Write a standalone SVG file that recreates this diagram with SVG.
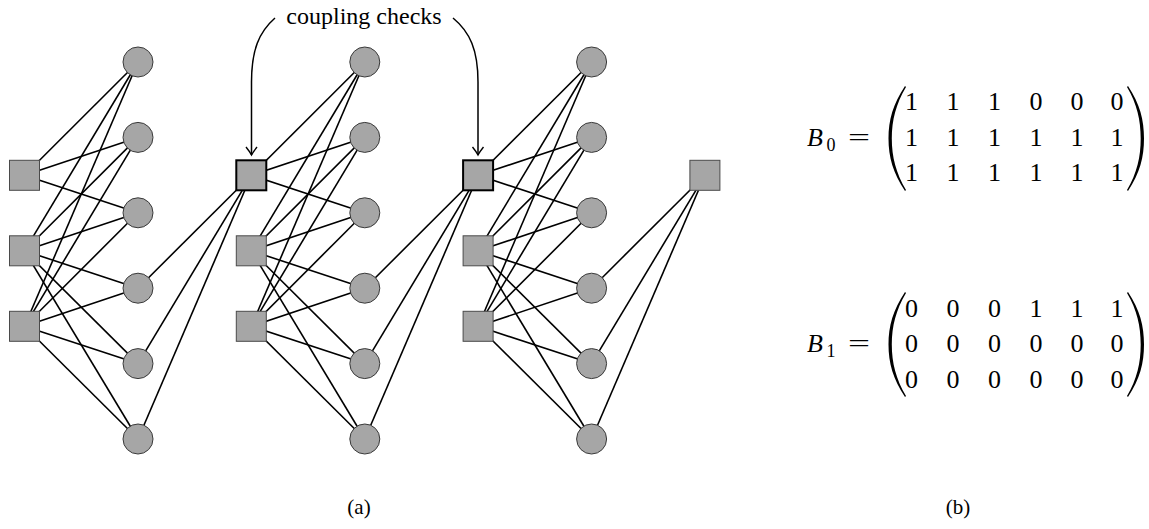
<svg xmlns="http://www.w3.org/2000/svg" xmlns:xlink="http://www.w3.org/1999/xlink" width="1149" height="529" viewBox="0 0 1149 529">
<style>
.e{stroke:#000;stroke-width:1.6;fill:none}
.v{fill:#a6a6a6;stroke:#3a3a3a;stroke-width:1}
.c{fill:#a6a6a6;stroke:#4a4a4a;stroke-width:1}
.cc{fill:#a6a6a6;stroke:#000;stroke-width:2}
.t{font-family:"Liberation Serif","Times New Roman",serif;fill:#000}
.m{font-family:"Liberation Serif","Times New Roman",serif;font-size:26px;fill:#000;text-anchor:middle}
.arr{stroke:#000;stroke-width:1.5;fill:none}
</style>
<defs>
<marker id="ah" markerUnits="userSpaceOnUse" markerWidth="16" markerHeight="16" refX="0" refY="0" viewBox="-8 -8 16 16" orient="auto" overflow="visible">
<path d="M-8,-5.5 Q-3,-1.5 0,0 Q-3,1.5 -8,5.5" fill="none" stroke="#000" stroke-width="1.4"/>
</marker>
<path id="lp" d="M905,86 C893,104 888.5,120 888.5,138.5 C888.5,157 893,173 905,191 L906,190 C896,173 891.8,157 891.8,138.5 C891.8,120 896,104 906,87 Z" fill="#000"/>
<path id="rp" d="M1128,86 C1140,104 1144,120 1144,138.5 C1144,157 1140,173 1128,191 L1127,190 C1137,173 1140.7,157 1140.7,138.5 C1140.7,120 1137,104 1127,87 Z" fill="#000"/>
</defs>
<rect width="1149" height="529" fill="#fff"/>

<g id="connectors">
<!-- column 0 -->
<line class="e" x1="24.5" y1="175.3" x2="138" y2="62"/>
<line class="e" x1="24.5" y1="175.3" x2="138" y2="137.4"/>
<line class="e" x1="24.5" y1="175.3" x2="138" y2="212.8"/>
<line class="e" x1="24.5" y1="250.8" x2="138" y2="62"/>
<line class="e" x1="24.5" y1="250.8" x2="138" y2="137.4"/>
<line class="e" x1="24.5" y1="250.8" x2="138" y2="212.8"/>
<line class="e" x1="24.5" y1="250.8" x2="138" y2="288.2"/>
<line class="e" x1="24.5" y1="250.8" x2="138" y2="363.6"/>
<line class="e" x1="24.5" y1="250.8" x2="138" y2="439"/>
<line class="e" x1="24.5" y1="326.3" x2="138" y2="62"/>
<line class="e" x1="24.5" y1="326.3" x2="138" y2="137.4"/>
<line class="e" x1="24.5" y1="326.3" x2="138" y2="212.8"/>
<line class="e" x1="24.5" y1="326.3" x2="138" y2="288.2"/>
<line class="e" x1="24.5" y1="326.3" x2="138" y2="363.6"/>
<line class="e" x1="24.5" y1="326.3" x2="138" y2="439"/>
<line class="e" x1="251.3" y1="175.3" x2="138" y2="288.2"/>
<line class="e" x1="251.3" y1="175.3" x2="138" y2="363.6"/>
<line class="e" x1="251.3" y1="175.3" x2="138" y2="439"/>
<!-- column 1 -->
<line class="e" x1="251.3" y1="175.3" x2="364.8" y2="62"/>
<line class="e" x1="251.3" y1="175.3" x2="364.8" y2="137.4"/>
<line class="e" x1="251.3" y1="175.3" x2="364.8" y2="212.8"/>
<line class="e" x1="251.3" y1="250.8" x2="364.8" y2="62"/>
<line class="e" x1="251.3" y1="250.8" x2="364.8" y2="137.4"/>
<line class="e" x1="251.3" y1="250.8" x2="364.8" y2="212.8"/>
<line class="e" x1="251.3" y1="250.8" x2="364.8" y2="288.2"/>
<line class="e" x1="251.3" y1="250.8" x2="364.8" y2="363.6"/>
<line class="e" x1="251.3" y1="250.8" x2="364.8" y2="439"/>
<line class="e" x1="251.3" y1="326.3" x2="364.8" y2="62"/>
<line class="e" x1="251.3" y1="326.3" x2="364.8" y2="137.4"/>
<line class="e" x1="251.3" y1="326.3" x2="364.8" y2="212.8"/>
<line class="e" x1="251.3" y1="326.3" x2="364.8" y2="288.2"/>
<line class="e" x1="251.3" y1="326.3" x2="364.8" y2="363.6"/>
<line class="e" x1="251.3" y1="326.3" x2="364.8" y2="439"/>
<line class="e" x1="478.1" y1="175.3" x2="364.8" y2="288.2"/>
<line class="e" x1="478.1" y1="175.3" x2="364.8" y2="363.6"/>
<line class="e" x1="478.1" y1="175.3" x2="364.8" y2="439"/>
<!-- column 2 -->
<line class="e" x1="478.1" y1="175.3" x2="591.6" y2="62"/>
<line class="e" x1="478.1" y1="175.3" x2="591.6" y2="137.4"/>
<line class="e" x1="478.1" y1="175.3" x2="591.6" y2="212.8"/>
<line class="e" x1="478.1" y1="250.8" x2="591.6" y2="62"/>
<line class="e" x1="478.1" y1="250.8" x2="591.6" y2="137.4"/>
<line class="e" x1="478.1" y1="250.8" x2="591.6" y2="212.8"/>
<line class="e" x1="478.1" y1="250.8" x2="591.6" y2="288.2"/>
<line class="e" x1="478.1" y1="250.8" x2="591.6" y2="363.6"/>
<line class="e" x1="478.1" y1="250.8" x2="591.6" y2="439"/>
<line class="e" x1="478.1" y1="326.3" x2="591.6" y2="62"/>
<line class="e" x1="478.1" y1="326.3" x2="591.6" y2="137.4"/>
<line class="e" x1="478.1" y1="326.3" x2="591.6" y2="212.8"/>
<line class="e" x1="478.1" y1="326.3" x2="591.6" y2="288.2"/>
<line class="e" x1="478.1" y1="326.3" x2="591.6" y2="363.6"/>
<line class="e" x1="478.1" y1="326.3" x2="591.6" y2="439"/>
<line class="e" x1="704.9" y1="175.3" x2="591.6" y2="288.2"/>
<line class="e" x1="704.9" y1="175.3" x2="591.6" y2="363.6"/>
<line class="e" x1="704.9" y1="175.3" x2="591.6" y2="439"/>
<!-- coupling arrows -->
<path class="arr" d="M275,18 C259,32 251.5,50 251.5,82 L251.5,155" marker-end="url(#ah)"/>
<path class="arr" d="M453,18 C470,32 478,50 478,82 L478,155" marker-end="url(#ah)"/>
</g>

<g id="var-nodes">
<circle id="v0-0" class="v" cx="138" cy="62" r="15"/>
<circle id="v0-1" class="v" cx="138" cy="137.4" r="15"/>
<circle id="v0-2" class="v" cx="138" cy="212.8" r="15"/>
<circle id="v0-3" class="v" cx="138" cy="288.2" r="15"/>
<circle id="v0-4" class="v" cx="138" cy="363.6" r="15"/>
<circle id="v0-5" class="v" cx="138" cy="439" r="15"/>
<circle id="v1-0" class="v" cx="364.8" cy="62" r="15"/>
<circle id="v1-1" class="v" cx="364.8" cy="137.4" r="15"/>
<circle id="v1-2" class="v" cx="364.8" cy="212.8" r="15"/>
<circle id="v1-3" class="v" cx="364.8" cy="288.2" r="15"/>
<circle id="v1-4" class="v" cx="364.8" cy="363.6" r="15"/>
<circle id="v1-5" class="v" cx="364.8" cy="439" r="15"/>
<circle id="v2-0" class="v" cx="591.6" cy="62" r="15"/>
<circle id="v2-1" class="v" cx="591.6" cy="137.4" r="15"/>
<circle id="v2-2" class="v" cx="591.6" cy="212.8" r="15"/>
<circle id="v2-3" class="v" cx="591.6" cy="288.2" r="15"/>
<circle id="v2-4" class="v" cx="591.6" cy="363.6" r="15"/>
<circle id="v2-5" class="v" cx="591.6" cy="439" r="15"/>
</g>

<g id="check-nodes">
<rect id="c0-0" class="c" x="9.5" y="160.3" width="30" height="30"/>
<rect id="c0-1" class="c" x="9.5" y="235.8" width="30" height="30"/>
<rect id="c0-2" class="c" x="9.5" y="311.3" width="30" height="30"/>
<rect id="c1-0" class="cc" x="236.3" y="160.3" width="30" height="30"/>
<rect id="c1-1" class="c" x="236.3" y="235.8" width="30" height="30"/>
<rect id="c1-2" class="c" x="236.3" y="311.3" width="30" height="30"/>
<rect id="c2-0" class="cc" x="463.1" y="160.3" width="30" height="30"/>
<rect id="c2-1" class="c" x="463.1" y="235.8" width="30" height="30"/>
<rect id="c2-2" class="c" x="463.1" y="311.3" width="30" height="30"/>
<rect id="c3-0" class="c" x="689.9" y="160.3" width="30" height="30"/>
</g>

<g id="label-coupling">
<text class="t" x="364" y="24" font-size="24" text-anchor="middle">coupling checks</text>
</g>

<g id="matrix-B0">
<text class="t" x="807" y="145.5" font-size="26" font-style="italic">B</text>
<text class="t" x="826.5" y="150.5" font-size="18">0</text>
<text class="t" font-size="26" text-anchor="middle" transform="translate(859,145.5) scale(1.5,1)">=</text>
<use xlink:href="#lp"/>
<use xlink:href="#rp"/>
<text class="m" y="110"><tspan x="911.5">1</tspan><tspan x="953">1</tspan><tspan x="994.5">1</tspan><tspan x="1036">0</tspan><tspan x="1077">0</tspan><tspan x="1117">0</tspan></text>
<text class="m" y="145.5"><tspan x="911.5">1</tspan><tspan x="953">1</tspan><tspan x="994.5">1</tspan><tspan x="1036">1</tspan><tspan x="1077">1</tspan><tspan x="1117">1</tspan></text>
<text class="m" y="181"><tspan x="911.5">1</tspan><tspan x="953">1</tspan><tspan x="994.5">1</tspan><tspan x="1036">1</tspan><tspan x="1077">1</tspan><tspan x="1117">1</tspan></text>
</g>

<g id="matrix-B1">
<text class="t" x="807" y="352" font-size="26" font-style="italic">B</text>
<text class="t" x="826.5" y="357" font-size="18">1</text>
<text class="t" font-size="26" text-anchor="middle" transform="translate(859,352) scale(1.5,1)">=</text>
<use xlink:href="#lp" transform="translate(0,206)"/>
<use xlink:href="#rp" transform="translate(0,206)"/>
<text class="m" y="316.5"><tspan x="911.5">0</tspan><tspan x="953">0</tspan><tspan x="994.5">0</tspan><tspan x="1036">1</tspan><tspan x="1077">1</tspan><tspan x="1117">1</tspan></text>
<text class="m" y="352"><tspan x="911.5">0</tspan><tspan x="953">0</tspan><tspan x="994.5">0</tspan><tspan x="1036">0</tspan><tspan x="1077">0</tspan><tspan x="1117">0</tspan></text>
<text class="m" y="387.5"><tspan x="911.5">0</tspan><tspan x="953">0</tspan><tspan x="994.5">0</tspan><tspan x="1036">0</tspan><tspan x="1077">0</tspan><tspan x="1117">0</tspan></text>
</g>

<g id="captions">
<text class="t" x="359" y="514" font-size="21" text-anchor="middle">(a)</text>
<text class="t" x="958" y="514" font-size="21" text-anchor="middle">(b)</text>
</g>
</svg>
